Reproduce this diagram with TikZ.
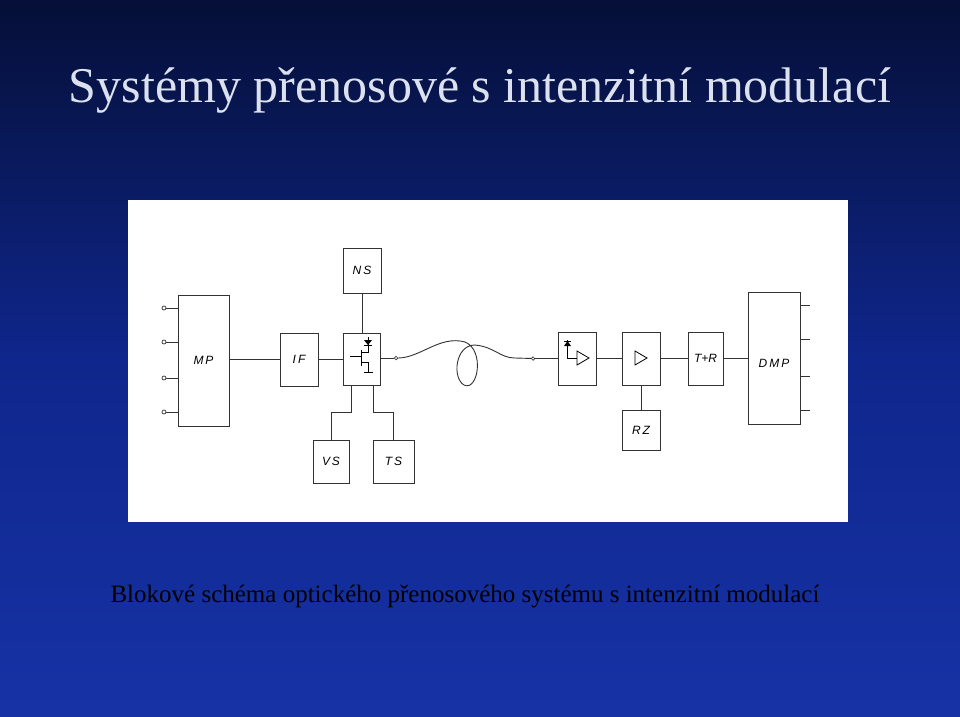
\documentclass[tikz,border=0pt]{standalone}
\usepackage{fontspec}
\setmainfont{Liberation Serif}
\newfontfamily\handfont{Liberation Sans}
\begin{document}
\begin{tikzpicture}[x=1pt,y=-1pt,
  blk/.style={draw=black!80,line width=0.9pt,inner sep=0pt},
  lbl/.style={font=\handfont\itshape\fontsize{12}{12}\selectfont},
  wire/.style={draw=black!80,line width=0.9pt},
  pin/.style={circle,draw=black!80,line width=0.7pt,fill=white,inner sep=0pt,minimum size=4pt}]
\useasboundingbox (0,0) rectangle (960,716);
\shade[top color={rgb,255:red,5;green,15;blue,55},bottom color={rgb,255:red,22;green,50;blue,165},middle color={rgb,255:red,15;green,38;blue,140}] (0,0) rectangle (960,716);
\fill[white] (128,200) rectangle (848,522);
% title
\node[text={rgb,255:red,220;green,225;blue,240}] (title) at (480,90) {\fontsize{50}{50}\selectfont Systémy přenosové s intenzitní modulací};
\node (cap) at (465,596) {\fontsize{25}{25}\selectfont Blokové schéma optického přenosového systému s intenzitní modulací};
% blocks
\node[blk,minimum width=51pt,minimum height=131pt] (mp) at (203.5,360.5) {};
\node[lbl] at (mp) {M\,P};
\node[blk,minimum width=38pt,minimum height=53pt] (if) at (299,359.5) {};
\node[lbl] at (if) {I\,F};
\node[blk,minimum width=37pt,minimum height=52pt] (mod) at (361.5,359) {};
\node[blk,minimum width=38pt,minimum height=45pt] (ns) at (362,270.5) {};
\node[lbl] at (ns) {N\,S};
\node[blk,minimum width=36pt,minimum height=43pt] (vs) at (331,461.5) {};
\node[lbl] at (vs) {V\,S};
\node[blk,minimum width=41pt,minimum height=43pt] (ts) at (393.5,461.5) {};
\node[lbl] at (ts) {T\,S};
\node[blk,minimum width=38pt,minimum height=53pt] (det) at (577,358.5) {};
\node[blk,minimum width=38pt,minimum height=53pt] (amp) at (641,358.5) {};
\node[blk,minimum width=38pt,minimum height=40pt] (rz) at (641,430) {};
\node[lbl] at (rz) {R\,Z};
\node[blk,minimum width=35pt,minimum height=53pt] (tr) at (705.5,358.5) {};
\node[lbl] at (tr) {T+R};
\node[blk,minimum width=52pt,minimum height=132pt] (dmp) at (774,358) {};
\node[lbl] at ([yshift=-5pt]dmp.center) {D\,M\,P};
% MP inputs
\foreach \y/\n in {308/a,342/b,378/c,412/d}{
  \coordinate (i\n) at (mp.west |- 0,\y);
  \node[pin] (p\n) at (164,\y) {};
  \draw[wire] (p\n) -- (i\n);
}
% DMP outputs
\foreach \y/\n in {305/a,339/b,376/c,410/d}{
  \coordinate (o\n) at (dmp.east |- 0,\y);
  \coordinate (e\n) at (810,\y);
  \draw[wire] (o\n) -- (e\n);
}
% chain
\draw[wire] (mp.east |- if.west) -- (if.west);
\draw[wire] (if.east) -- (mod.west |- if.east);
\draw[wire] (ns.south) -- (mod.north -| ns.south);
\draw[wire] ([xshift=-10pt]mod.south) -- ++(0,27) -| (vs.north);
\draw[wire] ([xshift=12pt]mod.south) -- ++(0,27) -| (ts.north);
\node[pin,minimum size=3.5pt] (fo) at (396,358) {};
\node[pin,minimum size=3.5pt] (fi) at (533,358.5) {};
\draw[wire] (mod.east |- fo) -- (fo);
\draw[wire] (fo) .. controls (420,358) and (440,335) .. (465,342)
  .. controls (485,350) and (478,392) .. (464,385)
  .. controls (452,378) and (455,345) .. (475,345)
  .. controls (495,347) and (500,358) .. (515,358) -- (fi);
\draw[wire] (fi) -- (det.west |- fi);
\draw[wire] (det.east) -- (amp.west);
\draw[wire] (amp.east) -- (tr.west);
\draw[wire] (tr.east) -- (dmp.west |- tr.east);
\draw[wire] (amp.south) -- (rz.north);
% transistor symbol
\begin{scope}[line width=0.8pt]
\draw (368,337) -- (368,350);
\fill (364,340) -- (372,340) -- (368,345) -- cycle;
\draw (364,345) -- (372,345);
\draw (350,356) -- (361,356);
\draw (361,350) -- (361,366);
\draw (361,352) -- (368,352) -- (368,350);
\draw (361,362) -- (368,362) -- (368,372);
\draw (364,372) -- (373,372);
% detector
\fill (564,346) -- (571,346) -- (567.5,341) -- cycle;
\draw (564,341) -- (571,341);
\draw (567.5,340) -- (567.5,358) -- (577,358);
\draw (577,351) -- (577,365) -- (589,358) -- cycle;
% amplifier
\draw (635,351) -- (635,365) -- (647,358) -- cycle;
\end{scope}
\end{tikzpicture}
\end{document}
